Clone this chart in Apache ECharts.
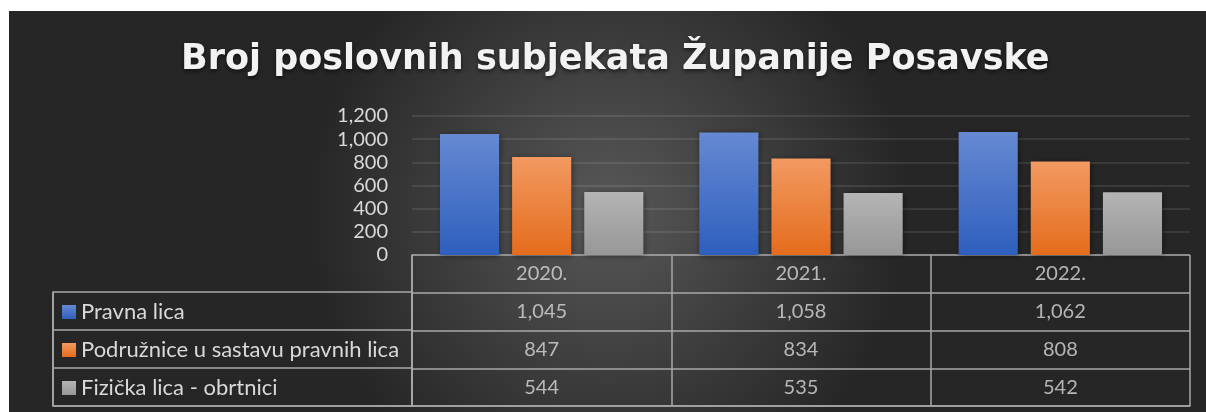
<!DOCTYPE html>
<html lang="hr">
<head>
  <meta charset="UTF-8">
  <title>Broj poslovnih subjekata Županije Posavske</title>
  <script src="https://cdn.jsdelivr.net/npm/echarts@6/dist/echarts.min.js"></script>
  <style>
    html, body { margin: 0; padding: 0; background: #fff; }
    #chart { position: absolute; left: 9px; top: 11px; width: 1197px; height: 401px; }
  </style>
</head>
<body>
  <div id="chart"></div>

  <script>
    // podaci
    const years = ['2020.', '2021.', '2022.']
    const seriesNames = ['Pravna lica', 'Podružnice u sastavu pravnih lica', 'Fizička lica - obrtnici']
    const pravnaLica = [1045, 1058, 1062]
    const podruznice = [847, 834, 808]
    const obrtnici = [544, 535, 542]
    const yTicks = [0, 200, 400, 600, 800, 1000, 1200]

    const values = [pravnaLica, podruznice, obrtnici]
    const font = 'Lato, "Open Sans", sans-serif'
    const textColor = '#d9d9d9'
    const tableLine = { show: true, lineStyle: { color: '#a8a8a8', width: 1.5 } }

    // boje stupaca (gradijent odozgo prema dolje)
    const grads = [
      ['#6689d2', '#2e5fbd'],
      ['#f29a62', '#e46c1c'],
      ['#b4b4b4', '#979797']
    ]
    const lin = (c) => new echarts.graphic.LinearGradient(0, 0, 0, 1, [
      { offset: 0, color: c[0] }, { offset: 1, color: c[1] }
    ])

    // tablica: redak 0 = godine, zatim vrijednosti
    const rowCats = ['', ...seriesNames]
    const cells = []
    years.forEach((y, i) => cells.push([i, 0, y]))
    values.forEach((arr, r) => arr.forEach((v, i) => cells.push([i, r + 1, v.toLocaleString('en-US')])))

    const chart = echarts.init(document.getElementById('chart'), null, { renderer: 'canvas' })
    chart.setOption({
      backgroundColor: new echarts.graphic.RadialGradient(0.5, 0.5, 0.75, [
        { offset: 0, color: '#585858' },
        { offset: 1, color: '#262626' }
      ]),
      animation: false,
      title: {
        text: 'Broj poslovnih subjekata Županije Posavske',
        left: 167,
        top: 26,
        textStyle: {
          color: '#f2f2f2',
          fontFamily: '"DejaVu Sans", sans-serif',
          fontWeight: 'bold',
          fontSize: 35,
          textShadowColor: 'rgba(0,0,0,0.6)',
          textShadowBlur: 4,
          textShadowOffsetY: 2
        }
      },
      legend: {
        orient: 'vertical',
        left: 53,
        top: 290,
        padding: 0,
        itemGap: 16,
        itemWidth: 14,
        itemHeight: 14,
        icon: 'rect',
        selectedMode: false,
        data: seriesNames,
        textStyle: { color: textColor, fontSize: 22, fontFamily: font }
      },
      grid: [
        { left: 403, right: 16, top: 105, height: 139 },
        { left: 403, right: 16, top: 244, height: 151 },
        { left: 44, width: 359, top: 281, height: 114 }
      ],
      xAxis: [
        {
          gridIndex: 0, type: 'category', data: years,
          axisLine: { show: false }, axisTick: { show: false }, axisLabel: { show: false }
        },
        {
          gridIndex: 1, type: 'category', data: years,
          axisLine: tableLine, axisTick: { show: false }, axisLabel: { show: false },
          splitLine: tableLine
        },
        {
          gridIndex: 2, type: 'category', data: [''],
          axisLine: tableLine, axisTick: { show: false }, axisLabel: { show: false },
          splitLine: tableLine
        }
      ],
      yAxis: [
        {
          gridIndex: 0, type: 'value', min: yTicks[0], max: yTicks[yTicks.length - 1], interval: 200,
          axisLine: { show: false }, axisTick: { show: false },
          axisLabel: {
            color: textColor, fontSize: 20, fontFamily: font, margin: 24,
            formatter: (v) => v.toLocaleString('en-US')
          },
          splitLine: { lineStyle: { color: 'rgba(255,255,255,0.13)', width: 1.5 } }
        },
        {
          gridIndex: 1, type: 'category', data: rowCats, inverse: true,
          axisLine: tableLine, axisTick: { show: false }, axisLabel: { show: false },
          splitLine: tableLine
        },
        {
          gridIndex: 2, type: 'category', data: seriesNames, inverse: true,
          axisLine: tableLine, axisTick: { show: false }, axisLabel: { show: false },
          splitLine: tableLine
        }
      ],
      series: [
        ...seriesNames.map((name, i) => ({
          name: name,
          type: 'bar',
          xAxisIndex: 0,
          yAxisIndex: 0,
          barWidth: '22.8%',
          barGap: '22%',
          data: values[i],
          itemStyle: {
            color: lin(grads[i]),
            shadowColor: 'rgba(0,0,0,0.45)',
            shadowBlur: 6,
            shadowOffsetX: 1,
            shadowOffsetY: 1
          }
        })),
        {
          type: 'scatter',
          xAxisIndex: 1,
          yAxisIndex: 1,
          silent: true,
          symbolSize: 1,
          itemStyle: { color: 'rgba(0,0,0,0)' },
          data: cells,
          label: {
            show: true,
            position: 'inside',
            color: textColor,
            fontSize: 20,
            fontFamily: font,
            formatter: (p) => p.data[2]
          }
        }
      ]
    })
  </script>
</body>
</html>
